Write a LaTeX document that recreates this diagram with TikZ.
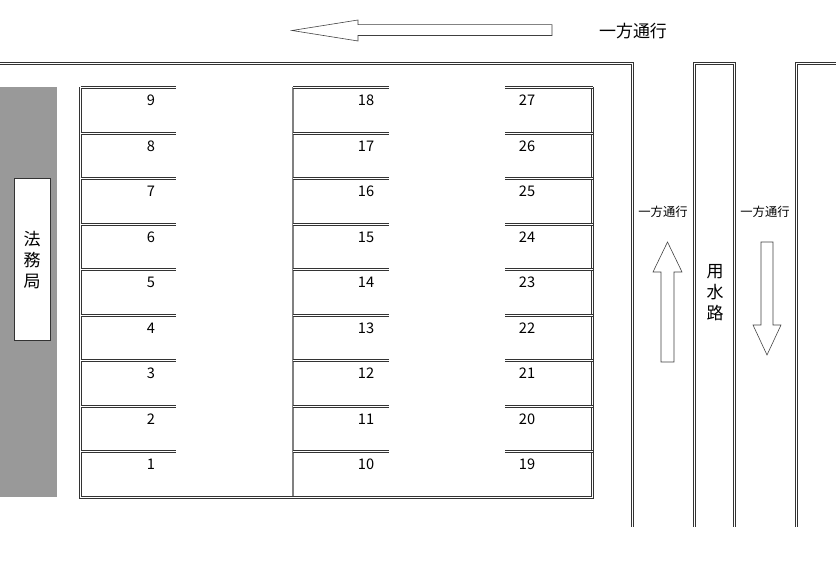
\documentclass[tikz,border=0pt]{standalone}
\usepackage{fontspec}
\setmainfont{Noto Sans CJK JP}
\usetikzlibrary{calc,positioning}

\tikzset{
  dblLine/.style={draw=black!80, double=white, double distance=0.75pt, line width=0.8pt},
  spotNum/.style={inner sep=0pt, font=\fontsize{12.5}{13}\selectfont},
  bigSign/.style={inner sep=0pt, font=\fontsize{14.5}{16}\selectfont},
  smallSign/.style={inner sep=0pt, font=\fontsize{10.5}{12}\selectfont},
  vertSign/.style={inner sep=0pt, align=center, font=\fontsize{14.5}{18}\selectfont},
  flowArrow/.style={draw=black!75, line width=0.5pt, fill=white}
}

\begin{document}
\begin{tikzpicture}[x=0.03cm, y=-0.03cm]
\useasboundingbox (0,0) rectangle (836,571);

% roads and water channel
\draw[dblLine] (0,63.5) -- (632.5,63.5) -- (632.5,527);
\draw[dblLine] (694.5,527) -- (694.5,63.5) -- (734.5,63.5) -- (734.5,527);
\draw[dblLine] (836,63.5) -- (796.5,63.5) -- (796.5,527);

% building
\fill[black!40] (0,87) rectangle (57,497);
\draw[black!80, fill=white, line width=0.6pt] (14,178) rectangle (50,340);
\node[vertSign] (nHoumu) at (32,260) {法\\務\\局};

% parking lot frame
\draw[black!50, line width=1.7pt] (293,87.5) -- (293,497);
\draw[dblLine] (80.5,87.5) -- (80.5,497.5) -- (592.5,497.5) -- (592.5,87.5);

\foreach \r in {1,...,9}
{
    \pgfmathsetmacro{\yTop}{floor(451.5-45.5*(\r-1))+0.5}
    \pgfmathtruncatemacro{\m}{\r+9}
    \pgfmathtruncatemacro{\n}{\r+18}
    \draw[dblLine] (80.5,\yTop) -- (176,\yTop);
    \draw[dblLine] (293,\yTop) -- (389,\yTop);
    \draw[dblLine] (505,\yTop) -- (592.5,\yTop);
    \node[spotNum] (nLeft\r) at (151,\yTop+13) {\r};
    \node[spotNum] (nMid\r) at (366,\yTop+13) {\m};
    \node[spotNum] (nRight\r) at (527,\yTop+13) {\n};
};

% one-way signs
\draw[flowArrow] (552,24.7) -- (358,24.7) -- (358,20) -- (292,30.5) -- (358,41)
    -- (358,35.5) -- (552,35.5) -- cycle;
\node[bigSign] (nOneWayTop) at (633,31.5) {一方通行};

\draw[flowArrow] (661,362) -- (661,272) -- (653,272) -- (667.5,242) -- (682,272)
    -- (674,272) -- (674,362) -- cycle;
\node[smallSign] (nOneWayUp) at (663,212) {一方通行};

\draw[flowArrow] (761,242) -- (761,325) -- (753,325) -- (767,355) -- (781,325)
    -- (773,325) -- (773,242) -- cycle;
\node[smallSign] (nOneWayDown) at (765,212) {一方通行};

\node[vertSign] (nYousui) at (715,293) {用\\水\\路};

\end{tikzpicture}
\end{document}
